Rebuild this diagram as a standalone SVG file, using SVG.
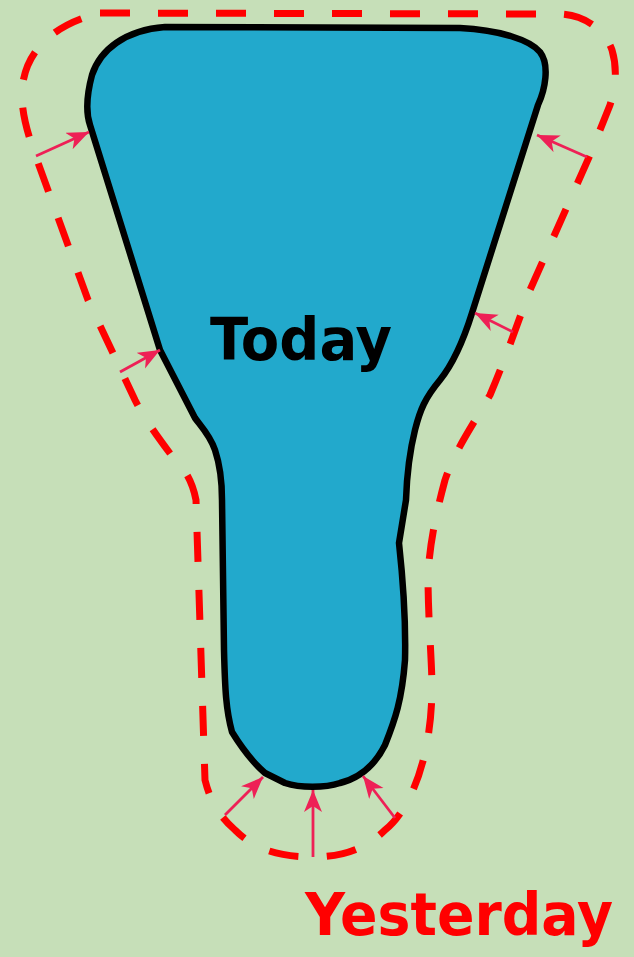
<svg xmlns="http://www.w3.org/2000/svg" width="634" height="957" viewBox="0 0 634 957">
<style>
.bg{fill:#C6DFB8}
.today{fill:#22A9CC;stroke:#000;stroke-width:6.5;stroke-linejoin:round}
.yest{fill:none;stroke:#FF0000;stroke-width:7;stroke-dasharray:30 28}
.arr{fill:none;stroke:#EE2056;stroke-width:2.8;marker-end:url(#ah)}
.lbl{font-family:"DejaVu Sans","Liberation Sans",sans-serif;font-weight:bold}
</style>
<defs>
<marker id="ah" markerUnits="userSpaceOnUse" markerWidth="24" markerHeight="20" refX="22" refY="9" orient="auto">
<path d="M0,0 L22,9 L0,18 L6,9 Z" fill="#EE2056"/>
</marker>
</defs>
<rect class="bg" width="634" height="957"/>
<g id="yesterday-outline">
<path class="yest" d="M 100,13 L 560,14 C 585,15 605,30 612,50 C 618,70 615,90 610,105 L 590,155 L 530,290 C 515,330 505,360 490,395 C 470,430 455,450 445,480 C 437,510 430,540 428,575 C 428,620 432,660 432,690 C 431,760 410,810 385,830 C 365,850 340,857 313,857 C 280,857 255,850 235,830 C 218,815 210,800 205,780 L 196,500 C 192,480 185,470 175,460 C 160,440 145,420 135,400 L 88,300 L 37,160 C 28,135 22,115 22,95 C 22,55 50,25 100,13 Z"/>
</g>
<g id="today-shape">
<path class="today" d="M 165,27 L 460,28 C 500,30 530,40 540,52 C 550,65 545,90 538,105 L 472,313 C 462,345 452,365 440,380 C 425,398 420,410 415,430 C 410,450 407,470 406,500 L 399,543 C 403,580 406,620 405,660 C 402,700 395,720 385,745 C 375,765 360,778 340,783 C 325,788 300,788 285,783 L 265,773 C 250,760 240,745 232,732 C 226,710 225,690 224,650 L 222,500 C 222,480 220,465 215,450 C 210,435 200,425 195,418 L 160,350 L 90,125 C 85,110 88,90 92,75 C 100,50 125,30 165,27 Z"/>
</g>
<g id="connectors">
<line class="arr" x1="36" y1="156" x2="89" y2="132"/>
<line class="arr" x1="120" y1="372" x2="160" y2="350"/>
<line class="arr" x1="587" y1="157" x2="537" y2="135"/>
<line class="arr" x1="513" y1="332" x2="475" y2="313"/>
<line class="arr" x1="225" y1="815" x2="263" y2="777"/>
<line class="arr" x1="313" y1="857" x2="313" y2="790"/>
<line class="arr" x1="395" y1="818" x2="363" y2="776"/>
</g>
<g id="label-today">
<text class="lbl" x="301" y="360" font-size="58" text-anchor="middle" textLength="182" lengthAdjust="spacingAndGlyphs" fill="#000">Today</text>
</g>
<g id="label-yesterday">
<text class="lbl" x="459" y="935" font-size="58" text-anchor="middle" textLength="308" lengthAdjust="spacingAndGlyphs" fill="#FF0000">Yesterday</text>
</g>
</svg>
